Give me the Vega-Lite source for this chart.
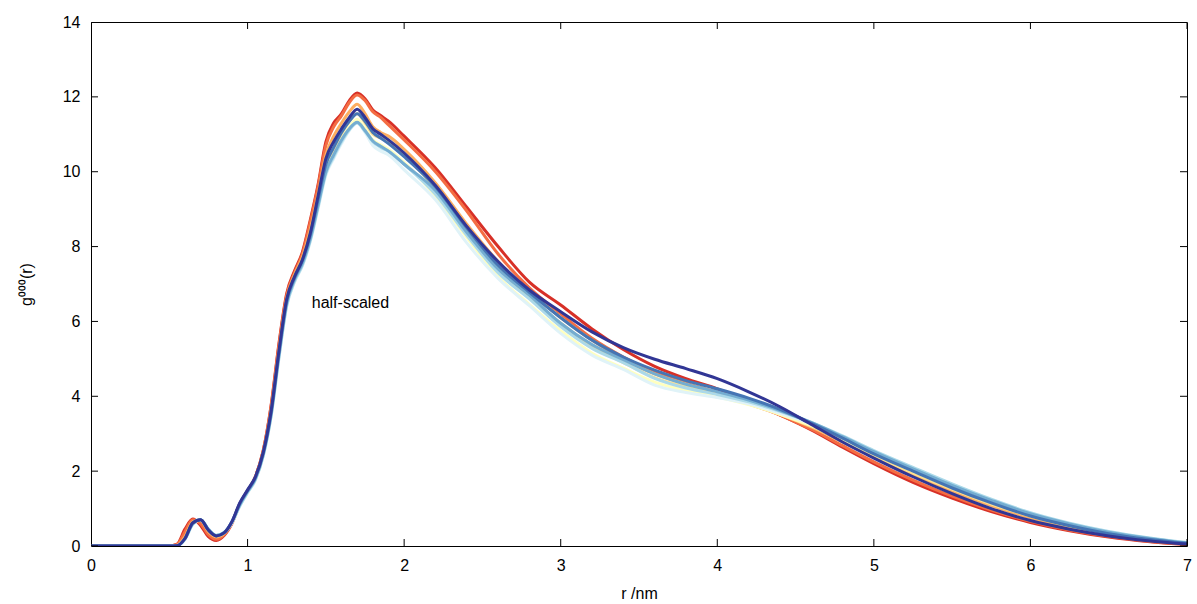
{
"$schema": "https://vega.github.io/schema/vega-lite/v6.json",
"width": 1096, "height": 524,
"autosize": {"type": "none"},
"padding": {"left": 91, "top": 22, "right": 10, "bottom": 58},
"background": "#ffffff",
"config": {
  "view": {"stroke": "#000000", "strokeWidth": 1},
  "axis": {"domain": false, "labelColor": "#000000", "titleColor": "#000000",
    "labelFont": "Liberation Sans", "titleFont": "Liberation Sans", "labelFontSize": 16, "titleFontSize": 16,
    "titleFontWeight": "normal", "grid": false, "ticks": false, "labelFlush": false}
},
"datasets": {
"xticks": [{"v":0},{"v":1},{"v":2},{"v":3},{"v":4},{"v":5},{"v":6},{"v":7}],
"yticks": [{"v":0},{"v":2},{"v":4},{"v":6},{"v":8},{"v":10},{"v":12},{"v":14}],
"curves": [
{"s":"s01","r":0,"g":0},{"s":"s01","r":0.5,"g":0},{"s":"s01","r":0.55,"g":0.05},{"s":"s01","r":0.6,"g":0.45},{"s":"s01","r":0.65,"g":0.72},{"s":"s01","r":0.7,"g":0.55},{"s":"s01","r":0.75,"g":0.25},{"s":"s01","r":0.8,"g":0.15},{"s":"s01","r":0.85,"g":0.28},{"s":"s01","r":0.9,"g":0.6},{"s":"s01","r":0.95,"g":1.1},{"s":"s01","r":1.0,"g":1.45},{"s":"s01","r":1.05,"g":1.85},{"s":"s01","r":1.1,"g":2.55},{"s":"s01","r":1.15,"g":3.75},{"s":"s01","r":1.2,"g":5.4},{"s":"s01","r":1.25,"g":6.75},{"s":"s01","r":1.3,"g":7.35},{"s":"s01","r":1.35,"g":7.85},{"s":"s01","r":1.4,"g":8.7},{"s":"s01","r":1.45,"g":9.65},{"s":"s01","r":1.5,"g":10.8},{"s":"s01","r":1.55,"g":11.3},{"s":"s01","r":1.6,"g":11.55},{"s":"s01","r":1.65,"g":11.9},{"s":"s01","r":1.7,"g":12.1},{"s":"s01","r":1.75,"g":11.95},{"s":"s01","r":1.8,"g":11.65},{"s":"s01","r":1.85,"g":11.5},{"s":"s01","r":1.9,"g":11.35},{"s":"s01","r":2.0,"g":10.95},{"s":"s01","r":2.2,"g":10.1},{"s":"s01","r":2.4,"g":9.05},{"s":"s01","r":2.6,"g":8.0},{"s":"s01","r":2.8,"g":7.05},{"s":"s01","r":3.0,"g":6.44},{"s":"s01","r":3.2,"g":5.8},{"s":"s01","r":3.4,"g":5.25},{"s":"s01","r":3.6,"g":4.8},{"s":"s01","r":3.8,"g":4.47},{"s":"s01","r":4.0,"g":4.2},{"s":"s01","r":4.2,"g":3.87},{"s":"s01","r":4.4,"g":3.5},{"s":"s01","r":4.6,"g":3.1},{"s":"s01","r":4.8,"g":2.64},{"s":"s01","r":5.0,"g":2.2},{"s":"s01","r":5.25,"g":1.7},{"s":"s01","r":5.5,"g":1.28},{"s":"s01","r":5.75,"g":0.92},{"s":"s01","r":6.0,"g":0.63},{"s":"s01","r":6.25,"g":0.41},{"s":"s01","r":6.5,"g":0.24},{"s":"s01","r":6.75,"g":0.12},{"s":"s01","r":7.0,"g":0.04},

{"s":"s02","r":0,"g":0},{"s":"s02","r":0.5,"g":0},{"s":"s02","r":0.55,"g":0.04},{"s":"s02","r":0.6,"g":0.38},{"s":"s02","r":0.65,"g":0.7},{"s":"s02","r":0.7,"g":0.6},{"s":"s02","r":0.75,"g":0.3},{"s":"s02","r":0.8,"g":0.18},{"s":"s02","r":0.85,"g":0.3},{"s":"s02","r":0.9,"g":0.62},{"s":"s02","r":0.95,"g":1.12},{"s":"s02","r":1.0,"g":1.47},{"s":"s02","r":1.05,"g":1.85},{"s":"s02","r":1.1,"g":2.55},{"s":"s02","r":1.15,"g":3.72},{"s":"s02","r":1.2,"g":5.35},{"s":"s02","r":1.25,"g":6.7},{"s":"s02","r":1.3,"g":7.3},{"s":"s02","r":1.35,"g":7.8},{"s":"s02","r":1.4,"g":8.65},{"s":"s02","r":1.45,"g":9.6},{"s":"s02","r":1.5,"g":10.7},{"s":"s02","r":1.55,"g":11.2},{"s":"s02","r":1.6,"g":11.5},{"s":"s02","r":1.65,"g":11.85},{"s":"s02","r":1.7,"g":12.05},{"s":"s02","r":1.75,"g":11.9},{"s":"s02","r":1.8,"g":11.6},{"s":"s02","r":1.85,"g":11.45},{"s":"s02","r":1.9,"g":11.25},{"s":"s02","r":2.0,"g":10.85},{"s":"s02","r":2.2,"g":10.0},{"s":"s02","r":2.4,"g":8.95},{"s":"s02","r":2.6,"g":7.8},{"s":"s02","r":2.8,"g":6.9},{"s":"s02","r":3.0,"g":6.2},{"s":"s02","r":3.2,"g":5.55},{"s":"s02","r":3.4,"g":5.05},{"s":"s02","r":3.6,"g":4.65},{"s":"s02","r":3.8,"g":4.35},{"s":"s02","r":4.0,"g":4.1},{"s":"s02","r":4.2,"g":3.8},{"s":"s02","r":4.4,"g":3.5},{"s":"s02","r":4.6,"g":3.12},{"s":"s02","r":4.8,"g":2.68},{"s":"s02","r":5.0,"g":2.25},{"s":"s02","r":5.25,"g":1.76},{"s":"s02","r":5.5,"g":1.33},{"s":"s02","r":5.75,"g":0.96},{"s":"s02","r":6.0,"g":0.66},{"s":"s02","r":6.25,"g":0.43},{"s":"s02","r":6.5,"g":0.26},{"s":"s02","r":6.75,"g":0.13},{"s":"s02","r":7.0,"g":0.05},

{"s":"s03","r":0,"g":0},{"s":"s03","r":0.5,"g":0},{"s":"s03","r":0.55,"g":0.02},{"s":"s03","r":0.6,"g":0.25},{"s":"s03","r":0.65,"g":0.65},{"s":"s03","r":0.7,"g":0.68},{"s":"s03","r":0.75,"g":0.38},{"s":"s03","r":0.8,"g":0.24},{"s":"s03","r":0.85,"g":0.33},{"s":"s03","r":0.9,"g":0.63},{"s":"s03","r":0.95,"g":1.12},{"s":"s03","r":1.0,"g":1.48},{"s":"s03","r":1.05,"g":1.84},{"s":"s03","r":1.1,"g":2.5},{"s":"s03","r":1.15,"g":3.62},{"s":"s03","r":1.2,"g":5.22},{"s":"s03","r":1.25,"g":6.62},{"s":"s03","r":1.3,"g":7.25},{"s":"s03","r":1.35,"g":7.72},{"s":"s03","r":1.4,"g":8.45},{"s":"s03","r":1.45,"g":9.4},{"s":"s03","r":1.5,"g":10.45},{"s":"s03","r":1.55,"g":10.95},{"s":"s03","r":1.6,"g":11.3},{"s":"s03","r":1.65,"g":11.6},{"s":"s03","r":1.7,"g":11.8},{"s":"s03","r":1.75,"g":11.55},{"s":"s03","r":1.8,"g":11.2},{"s":"s03","r":1.85,"g":11.05},{"s":"s03","r":1.9,"g":10.95},{"s":"s03","r":2.0,"g":10.6},{"s":"s03","r":2.2,"g":9.7},{"s":"s03","r":2.4,"g":8.6},{"s":"s03","r":2.6,"g":7.6},{"s":"s03","r":2.8,"g":6.8},{"s":"s03","r":3.0,"g":6.1},{"s":"s03","r":3.2,"g":5.5},{"s":"s03","r":3.4,"g":5.0},{"s":"s03","r":3.6,"g":4.6},{"s":"s03","r":3.8,"g":4.33},{"s":"s03","r":4.0,"g":4.1},{"s":"s03","r":4.2,"g":3.82},{"s":"s03","r":4.4,"g":3.52},{"s":"s03","r":4.6,"g":3.18},{"s":"s03","r":4.8,"g":2.78},{"s":"s03","r":5.0,"g":2.38},{"s":"s03","r":5.25,"g":1.9},{"s":"s03","r":5.5,"g":1.47},{"s":"s03","r":5.75,"g":1.08},{"s":"s03","r":6.0,"g":0.75},{"s":"s03","r":6.25,"g":0.5},{"s":"s03","r":6.5,"g":0.31},{"s":"s03","r":6.75,"g":0.17},{"s":"s03","r":7.0,"g":0.07},

{"s":"s04","r":0,"g":0},{"s":"s04","r":0.5,"g":0},{"s":"s04","r":0.55,"g":0.01},{"s":"s04","r":0.6,"g":0.2},{"s":"s04","r":0.65,"g":0.6},{"s":"s04","r":0.7,"g":0.7},{"s":"s04","r":0.75,"g":0.43},{"s":"s04","r":0.8,"g":0.27},{"s":"s04","r":0.85,"g":0.35},{"s":"s04","r":0.9,"g":0.63},{"s":"s04","r":0.95,"g":1.1},{"s":"s04","r":1.0,"g":1.45},{"s":"s04","r":1.05,"g":1.8},{"s":"s04","r":1.1,"g":2.45},{"s":"s04","r":1.15,"g":3.52},{"s":"s04","r":1.2,"g":5.1},{"s":"s04","r":1.25,"g":6.5},{"s":"s04","r":1.3,"g":7.15},{"s":"s04","r":1.35,"g":7.58},{"s":"s04","r":1.4,"g":8.25},{"s":"s04","r":1.45,"g":9.2},{"s":"s04","r":1.5,"g":10.15},{"s":"s04","r":1.55,"g":10.6},{"s":"s04","r":1.6,"g":11.0},{"s":"s04","r":1.65,"g":11.35},{"s":"s04","r":1.7,"g":11.55},{"s":"s04","r":1.75,"g":11.3},{"s":"s04","r":1.8,"g":11.0},{"s":"s04","r":1.85,"g":10.9},{"s":"s04","r":1.9,"g":10.8},{"s":"s04","r":2.0,"g":10.45},{"s":"s04","r":2.2,"g":9.55},{"s":"s04","r":2.4,"g":8.45},{"s":"s04","r":2.6,"g":7.45},{"s":"s04","r":2.8,"g":6.65},{"s":"s04","r":3.0,"g":5.95},{"s":"s04","r":3.2,"g":5.35},{"s":"s04","r":3.4,"g":4.9},{"s":"s04","r":3.6,"g":4.5},{"s":"s04","r":3.8,"g":4.25},{"s":"s04","r":4.0,"g":4.05},{"s":"s04","r":4.2,"g":3.8},{"s":"s04","r":4.4,"g":3.52},{"s":"s04","r":4.6,"g":3.2},{"s":"s04","r":4.8,"g":2.82},{"s":"s04","r":5.0,"g":2.42},{"s":"s04","r":5.25,"g":1.95},{"s":"s04","r":5.5,"g":1.52},{"s":"s04","r":5.75,"g":1.12},{"s":"s04","r":6.0,"g":0.8},{"s":"s04","r":6.25,"g":0.54},{"s":"s04","r":6.5,"g":0.34},{"s":"s04","r":6.75,"g":0.19},{"s":"s04","r":7.0,"g":0.08},

{"s":"s05","r":0,"g":0},{"s":"s05","r":0.5,"g":0},{"s":"s05","r":0.55,"g":0.01},{"s":"s05","r":0.6,"g":0.19},{"s":"s05","r":0.65,"g":0.58},{"s":"s05","r":0.7,"g":0.7},{"s":"s05","r":0.75,"g":0.44},{"s":"s05","r":0.8,"g":0.28},{"s":"s05","r":0.85,"g":0.36},{"s":"s05","r":0.9,"g":0.63},{"s":"s05","r":0.95,"g":1.08},{"s":"s05","r":1.0,"g":1.43},{"s":"s05","r":1.05,"g":1.78},{"s":"s05","r":1.1,"g":2.42},{"s":"s05","r":1.15,"g":3.48},{"s":"s05","r":1.2,"g":5.05},{"s":"s05","r":1.25,"g":6.45},{"s":"s05","r":1.3,"g":7.1},{"s":"s05","r":1.35,"g":7.52},{"s":"s05","r":1.4,"g":8.18},{"s":"s05","r":1.45,"g":9.1},{"s":"s05","r":1.5,"g":10.0},{"s":"s05","r":1.55,"g":10.45},{"s":"s05","r":1.6,"g":10.85},{"s":"s05","r":1.65,"g":11.2},{"s":"s05","r":1.7,"g":11.4},{"s":"s05","r":1.75,"g":11.15},{"s":"s05","r":1.8,"g":10.85},{"s":"s05","r":1.85,"g":10.72},{"s":"s05","r":1.9,"g":10.6},{"s":"s05","r":2.0,"g":10.25},{"s":"s05","r":2.2,"g":9.35},{"s":"s05","r":2.4,"g":8.25},{"s":"s05","r":2.6,"g":7.2},{"s":"s05","r":2.8,"g":6.45},{"s":"s05","r":3.0,"g":5.75},{"s":"s05","r":3.2,"g":5.15},{"s":"s05","r":3.4,"g":4.75},{"s":"s05","r":3.6,"g":4.38},{"s":"s05","r":3.8,"g":4.15},{"s":"s05","r":4.0,"g":3.98},{"s":"s05","r":4.2,"g":3.78},{"s":"s05","r":4.4,"g":3.52},{"s":"s05","r":4.6,"g":3.22},{"s":"s05","r":4.8,"g":2.85},{"s":"s05","r":5.0,"g":2.46},{"s":"s05","r":5.25,"g":2.0},{"s":"s05","r":5.5,"g":1.57},{"s":"s05","r":5.75,"g":1.17},{"s":"s05","r":6.0,"g":0.84},{"s":"s05","r":6.25,"g":0.57},{"s":"s05","r":6.5,"g":0.36},{"s":"s05","r":6.75,"g":0.2},{"s":"s05","r":7.0,"g":0.08},

{"s":"s06","r":0,"g":0},{"s":"s06","r":0.5,"g":0},{"s":"s06","r":0.55,"g":0.01},{"s":"s06","r":0.6,"g":0.18},{"s":"s06","r":0.65,"g":0.57},{"s":"s06","r":0.7,"g":0.7},{"s":"s06","r":0.75,"g":0.45},{"s":"s06","r":0.8,"g":0.29},{"s":"s06","r":0.85,"g":0.36},{"s":"s06","r":0.9,"g":0.62},{"s":"s06","r":0.95,"g":1.06},{"s":"s06","r":1.0,"g":1.42},{"s":"s06","r":1.05,"g":1.76},{"s":"s06","r":1.1,"g":2.4},{"s":"s06","r":1.15,"g":3.45},{"s":"s06","r":1.2,"g":5.0},{"s":"s06","r":1.25,"g":6.4},{"s":"s06","r":1.3,"g":7.05},{"s":"s06","r":1.35,"g":7.48},{"s":"s06","r":1.4,"g":8.12},{"s":"s06","r":1.45,"g":9.0},{"s":"s06","r":1.5,"g":9.9},{"s":"s06","r":1.55,"g":10.35},{"s":"s06","r":1.6,"g":10.75},{"s":"s06","r":1.65,"g":11.1},{"s":"s06","r":1.7,"g":11.3},{"s":"s06","r":1.75,"g":11.05},{"s":"s06","r":1.8,"g":10.7},{"s":"s06","r":1.85,"g":10.55},{"s":"s06","r":1.9,"g":10.45},{"s":"s06","r":2.0,"g":10.05},{"s":"s06","r":2.2,"g":9.25},{"s":"s06","r":2.4,"g":8.1},{"s":"s06","r":2.6,"g":7.15},{"s":"s06","r":2.8,"g":6.42},{"s":"s06","r":3.0,"g":5.68},{"s":"s06","r":3.2,"g":5.1},{"s":"s06","r":3.4,"g":4.72},{"s":"s06","r":3.6,"g":4.3},{"s":"s06","r":3.8,"g":4.1},{"s":"s06","r":4.0,"g":3.97},{"s":"s06","r":4.2,"g":3.8},{"s":"s06","r":4.4,"g":3.55},{"s":"s06","r":4.6,"g":3.27},{"s":"s06","r":4.8,"g":2.92},{"s":"s06","r":5.0,"g":2.52},{"s":"s06","r":5.25,"g":2.08},{"s":"s06","r":5.5,"g":1.64},{"s":"s06","r":5.75,"g":1.23},{"s":"s06","r":6.0,"g":0.88},{"s":"s06","r":6.25,"g":0.6},{"s":"s06","r":6.5,"g":0.38},{"s":"s06","r":6.75,"g":0.22},{"s":"s06","r":7.0,"g":0.09},

{"s":"s07","r":0,"g":0},{"s":"s07","r":0.5,"g":0},{"s":"s07","r":0.55,"g":0.01},{"s":"s07","r":0.6,"g":0.18},{"s":"s07","r":0.65,"g":0.58},{"s":"s07","r":0.7,"g":0.7},{"s":"s07","r":0.75,"g":0.45},{"s":"s07","r":0.8,"g":0.28},{"s":"s07","r":0.85,"g":0.36},{"s":"s07","r":0.9,"g":0.63},{"s":"s07","r":0.95,"g":1.07},{"s":"s07","r":1.0,"g":1.43},{"s":"s07","r":1.05,"g":1.77},{"s":"s07","r":1.1,"g":2.41},{"s":"s07","r":1.15,"g":3.46},{"s":"s07","r":1.2,"g":5.02},{"s":"s07","r":1.25,"g":6.42},{"s":"s07","r":1.3,"g":7.07},{"s":"s07","r":1.35,"g":7.5},{"s":"s07","r":1.4,"g":8.15},{"s":"s07","r":1.45,"g":9.05},{"s":"s07","r":1.5,"g":9.95},{"s":"s07","r":1.55,"g":10.4},{"s":"s07","r":1.6,"g":10.8},{"s":"s07","r":1.65,"g":11.12},{"s":"s07","r":1.7,"g":11.3},{"s":"s07","r":1.75,"g":11.08},{"s":"s07","r":1.8,"g":10.8},{"s":"s07","r":1.85,"g":10.65},{"s":"s07","r":1.9,"g":10.55},{"s":"s07","r":2.0,"g":10.2},{"s":"s07","r":2.2,"g":9.4},{"s":"s07","r":2.4,"g":8.3},{"s":"s07","r":2.6,"g":7.3},{"s":"s07","r":2.8,"g":6.6},{"s":"s07","r":3.0,"g":5.86},{"s":"s07","r":3.2,"g":5.28},{"s":"s07","r":3.4,"g":4.9},{"s":"s07","r":3.6,"g":4.48},{"s":"s07","r":3.8,"g":4.22},{"s":"s07","r":4.0,"g":4.05},{"s":"s07","r":4.2,"g":3.85},{"s":"s07","r":4.4,"g":3.6},{"s":"s07","r":4.6,"g":3.3},{"s":"s07","r":4.8,"g":2.94},{"s":"s07","r":5.0,"g":2.55},{"s":"s07","r":5.25,"g":2.1},{"s":"s07","r":5.5,"g":1.66},{"s":"s07","r":5.75,"g":1.25},{"s":"s07","r":6.0,"g":0.89},{"s":"s07","r":6.25,"g":0.61},{"s":"s07","r":6.5,"g":0.39},{"s":"s07","r":6.75,"g":0.22},{"s":"s07","r":7.0,"g":0.09},

{"s":"s08","r":0,"g":0},{"s":"s08","r":0.5,"g":0},{"s":"s08","r":0.55,"g":0.01},{"s":"s08","r":0.6,"g":0.19},{"s":"s08","r":0.65,"g":0.6},{"s":"s08","r":0.7,"g":0.7},{"s":"s08","r":0.75,"g":0.44},{"s":"s08","r":0.8,"g":0.28},{"s":"s08","r":0.85,"g":0.36},{"s":"s08","r":0.9,"g":0.64},{"s":"s08","r":0.95,"g":1.1},{"s":"s08","r":1.0,"g":1.46},{"s":"s08","r":1.05,"g":1.8},{"s":"s08","r":1.1,"g":2.44},{"s":"s08","r":1.15,"g":3.5},{"s":"s08","r":1.2,"g":5.08},{"s":"s08","r":1.25,"g":6.48},{"s":"s08","r":1.3,"g":7.12},{"s":"s08","r":1.35,"g":7.55},{"s":"s08","r":1.4,"g":8.2},{"s":"s08","r":1.45,"g":9.1},{"s":"s08","r":1.5,"g":10.0},{"s":"s08","r":1.55,"g":10.45},{"s":"s08","r":1.6,"g":10.85},{"s":"s08","r":1.65,"g":11.15},{"s":"s08","r":1.7,"g":11.32},{"s":"s08","r":1.75,"g":11.1},{"s":"s08","r":1.8,"g":10.82},{"s":"s08","r":1.85,"g":10.68},{"s":"s08","r":1.9,"g":10.55},{"s":"s08","r":2.0,"g":10.2},{"s":"s08","r":2.2,"g":9.5},{"s":"s08","r":2.4,"g":8.38},{"s":"s08","r":2.6,"g":7.4},{"s":"s08","r":2.8,"g":6.7},{"s":"s08","r":3.0,"g":5.95},{"s":"s08","r":3.2,"g":5.38},{"s":"s08","r":3.4,"g":4.98},{"s":"s08","r":3.6,"g":4.6},{"s":"s08","r":3.8,"g":4.32},{"s":"s08","r":4.0,"g":4.12},{"s":"s08","r":4.2,"g":3.9},{"s":"s08","r":4.4,"g":3.62},{"s":"s08","r":4.6,"g":3.3},{"s":"s08","r":4.8,"g":2.92},{"s":"s08","r":5.0,"g":2.52},{"s":"s08","r":5.25,"g":2.06},{"s":"s08","r":5.5,"g":1.62},{"s":"s08","r":5.75,"g":1.22},{"s":"s08","r":6.0,"g":0.86},{"s":"s08","r":6.25,"g":0.59},{"s":"s08","r":6.5,"g":0.37},{"s":"s08","r":6.75,"g":0.21},{"s":"s08","r":7.0,"g":0.08},

{"s":"s09","r":0,"g":0},{"s":"s09","r":0.5,"g":0},{"s":"s09","r":0.55,"g":0.01},{"s":"s09","r":0.6,"g":0.2},{"s":"s09","r":0.65,"g":0.61},{"s":"s09","r":0.7,"g":0.7},{"s":"s09","r":0.75,"g":0.43},{"s":"s09","r":0.8,"g":0.27},{"s":"s09","r":0.85,"g":0.35},{"s":"s09","r":0.9,"g":0.65},{"s":"s09","r":0.95,"g":1.13},{"s":"s09","r":1.0,"g":1.48},{"s":"s09","r":1.05,"g":1.83},{"s":"s09","r":1.1,"g":2.48},{"s":"s09","r":1.15,"g":3.56},{"s":"s09","r":1.2,"g":5.15},{"s":"s09","r":1.25,"g":6.55},{"s":"s09","r":1.3,"g":7.17},{"s":"s09","r":1.35,"g":7.62},{"s":"s09","r":1.4,"g":8.3},{"s":"s09","r":1.45,"g":9.25},{"s":"s09","r":1.5,"g":10.2},{"s":"s09","r":1.55,"g":10.65},{"s":"s09","r":1.6,"g":11.05},{"s":"s09","r":1.65,"g":11.35},{"s":"s09","r":1.7,"g":11.55},{"s":"s09","r":1.75,"g":11.35},{"s":"s09","r":1.8,"g":11.05},{"s":"s09","r":1.85,"g":10.9},{"s":"s09","r":1.9,"g":10.75},{"s":"s09","r":2.0,"g":10.4},{"s":"s09","r":2.2,"g":9.6},{"s":"s09","r":2.4,"g":8.5},{"s":"s09","r":2.6,"g":7.5},{"s":"s09","r":2.8,"g":6.78},{"s":"s09","r":3.0,"g":6.1},{"s":"s09","r":3.2,"g":5.5},{"s":"s09","r":3.4,"g":5.05},{"s":"s09","r":3.6,"g":4.7},{"s":"s09","r":3.8,"g":4.42},{"s":"s09","r":4.0,"g":4.2},{"s":"s09","r":4.2,"g":3.95},{"s":"s09","r":4.4,"g":3.65},{"s":"s09","r":4.6,"g":3.28},{"s":"s09","r":4.8,"g":2.88},{"s":"s09","r":5.0,"g":2.46},{"s":"s09","r":5.25,"g":2.0},{"s":"s09","r":5.5,"g":1.55},{"s":"s09","r":5.75,"g":1.15},{"s":"s09","r":6.0,"g":0.8},{"s":"s09","r":6.25,"g":0.54},{"s":"s09","r":6.5,"g":0.33},{"s":"s09","r":6.75,"g":0.18},{"s":"s09","r":7.0,"g":0.07},

{"s":"s10","r":0,"g":0},{"s":"s10","r":0.5,"g":0},{"s":"s10","r":0.55,"g":0.01},{"s":"s10","r":0.6,"g":0.2},{"s":"s10","r":0.65,"g":0.62},{"s":"s10","r":0.7,"g":0.7},{"s":"s10","r":0.75,"g":0.42},{"s":"s10","r":0.8,"g":0.27},{"s":"s10","r":0.85,"g":0.35},{"s":"s10","r":0.9,"g":0.65},{"s":"s10","r":0.95,"g":1.15},{"s":"s10","r":1.0,"g":1.5},{"s":"s10","r":1.05,"g":1.85},{"s":"s10","r":1.1,"g":2.5},{"s":"s10","r":1.15,"g":3.6},{"s":"s10","r":1.2,"g":5.2},{"s":"s10","r":1.25,"g":6.6},{"s":"s10","r":1.3,"g":7.2},{"s":"s10","r":1.35,"g":7.65},{"s":"s10","r":1.4,"g":8.35},{"s":"s10","r":1.45,"g":9.35},{"s":"s10","r":1.5,"g":10.35},{"s":"s10","r":1.55,"g":10.8},{"s":"s10","r":1.6,"g":11.15},{"s":"s10","r":1.65,"g":11.45},{"s":"s10","r":1.7,"g":11.67},{"s":"s10","r":1.75,"g":11.45},{"s":"s10","r":1.8,"g":11.15},{"s":"s10","r":1.85,"g":11.0},{"s":"s10","r":1.9,"g":10.85},{"s":"s10","r":2.0,"g":10.5},{"s":"s10","r":2.2,"g":9.63},{"s":"s10","r":2.4,"g":8.54},{"s":"s10","r":2.6,"g":7.6},{"s":"s10","r":2.8,"g":6.84},{"s":"s10","r":3.0,"g":6.26},{"s":"s10","r":3.2,"g":5.72},{"s":"s10","r":3.4,"g":5.3},{"s":"s10","r":3.6,"g":4.99},{"s":"s10","r":3.8,"g":4.74},{"s":"s10","r":4.0,"g":4.47},{"s":"s10","r":4.2,"g":4.12},{"s":"s10","r":4.4,"g":3.72},{"s":"s10","r":4.6,"g":3.25},{"s":"s10","r":4.8,"g":2.78},{"s":"s10","r":5.0,"g":2.35},{"s":"s10","r":5.25,"g":1.85},{"s":"s10","r":5.5,"g":1.4},{"s":"s10","r":5.75,"g":1.0},{"s":"s10","r":6.0,"g":0.68},{"s":"s10","r":6.25,"g":0.45},{"s":"s10","r":6.5,"g":0.27},{"s":"s10","r":6.75,"g":0.14},{"s":"s10","r":7.0,"g":0.05}
],
"notes": [{"r": 1.41, "g": 6.5, "label": "half-scaled"}]
},
"layer": [
  {
    "data": {"name": "curves"},
    "mark": {"type": "line", "strokeWidth": 3, "interpolate": "monotone", "clip": true},
    "encoding": {
      "x": {"field": "r", "type": "quantitative", "scale": {"domain": [0, 7], "nice": false},
            "axis": {"orient": "bottom", "values": [0,1,2,3,4,5,6,7], "format": "d", "title": "r /nm", "labelPadding": 11, "titlePadding": 12}},
      "y": {"field": "g", "type": "quantitative", "scale": {"domain": [0, 14], "nice": false},
            "axis": {"orient": "left", "values": [0,2,4,6,8,10,12,14], "format": "d", "title": "g⁰⁰⁰(r)", "labelPadding": 11, "titlePadding": 28}},
      "color": {"field": "s", "type": "nominal",
        "scale": {"domain": ["s01","s02","s03","s04","s05","s06","s07","s08","s09","s10"],
                  "range": ["#d73027","#f46d43","#fdae61","#fee090","#ffffbf","#e0f3f8","#abd9e9","#74add1","#4575b4","#313695"]},
        "legend": null}
    }
  },
  {
    "data": {"name": "notes"},
    "mark": {"type": "text", "align": "left", "baseline": "middle", "font": "Liberation Sans", "fontSize": 16, "color": "#000000"},
    "encoding": {
      "x": {"field": "r", "type": "quantitative"},
      "y": {"field": "g", "type": "quantitative"},
      "text": {"field": "label"}
    }
  },
  {
    "data": {"name": "xticks"},
    "mark": {"type": "tick", "orient": "vertical", "size": 14, "thickness": 1, "color": "#000000", "clip": true, "opacity": 1},
    "encoding": {
      "x": {"field": "v", "type": "quantitative"},
      "y": {"datum": 0, "type": "quantitative"}
    }
  },
  {
    "data": {"name": "xticks"},
    "mark": {"type": "tick", "orient": "vertical", "size": 14, "thickness": 1, "color": "#000000", "clip": true, "opacity": 1},
    "encoding": {
      "x": {"field": "v", "type": "quantitative"},
      "y": {"datum": 14, "type": "quantitative"}
    }
  },
  {
    "data": {"name": "yticks"},
    "mark": {"type": "tick", "orient": "horizontal", "size": 14, "thickness": 1, "color": "#000000", "clip": true, "opacity": 1},
    "encoding": {
      "x": {"datum": 0, "type": "quantitative"},
      "y": {"field": "v", "type": "quantitative"}
    }
  },
  {
    "data": {"name": "yticks"},
    "mark": {"type": "tick", "orient": "horizontal", "size": 14, "thickness": 1, "color": "#000000", "clip": true, "opacity": 1},
    "encoding": {
      "x": {"datum": 7, "type": "quantitative"},
      "y": {"field": "v", "type": "quantitative"}
    }
  }
]
}
